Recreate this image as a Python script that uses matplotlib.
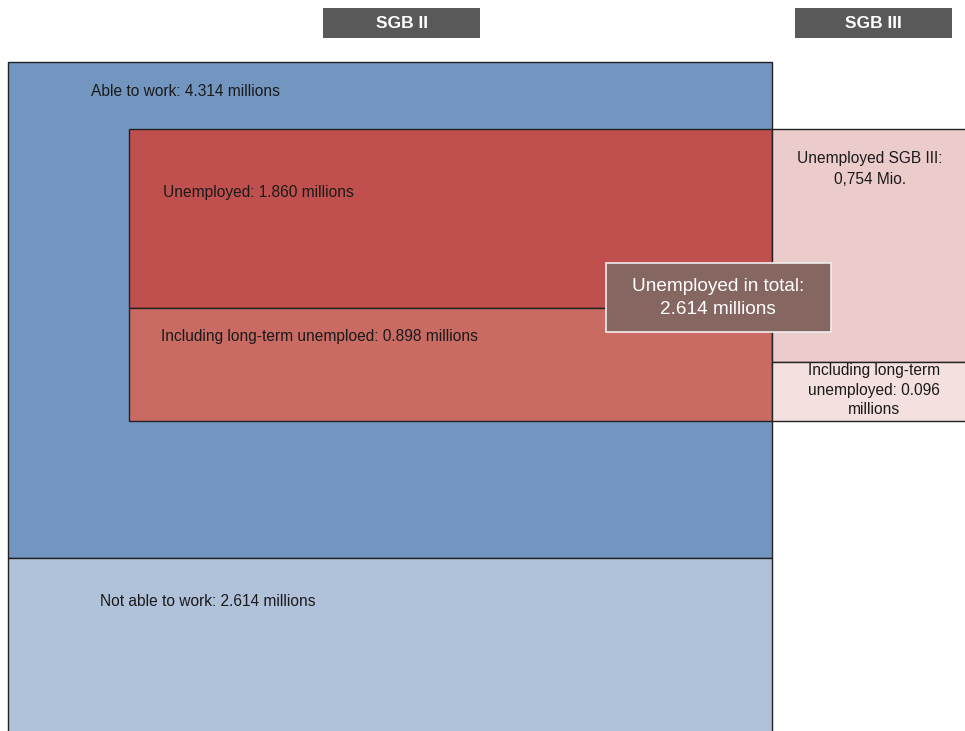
import matplotlib.pyplot as plt
from matplotlib.patches import Rectangle

plt.rcParams['font.family'] = ['Liberation Sans', 'DejaVu Sans']

# values (millions)
able_to_work = 4.314
not_able = 2.614
unemp_sgb2 = 1.860
longterm_sgb2 = 0.898
unemp_sgb3 = 0.754
longterm_sgb3 = 0.096
unemp_total = 2.614

headers = ["SGB II", "SGB III"]

# layout of the boxes in pixel units (x0, y0, x1, y1), y going down
layout = {
    "able": (8, 62, 772, 558),
    "not_able": (8, 558, 772, 735),
    "unemp2": (129, 129, 772, 308),
    "long2": (129, 308, 772, 421),
    "unemp3": (772, 129, 968, 362),
    "long3": (772, 362, 968, 421),
    "total": (606, 263, 831, 332),
}
header_boxes = [(323, 8, 480, 38), (795, 8, 952, 38)]

fig = plt.figure(figsize=(9.65, 7.31), dpi=100)
ax = fig.add_axes([0, 0, 1, 1])
ax.set_xlim(0, 965)
ax.set_ylim(731, 0)
ax.axis('off')


def box(key, color, ec='#222222', lw=1.0, z=1):
    x0, y0, x1, y1 = layout[key]
    ax.add_patch(Rectangle((x0, y0), x1 - x0, y1 - y0, facecolor=color,
                           edgecolor=ec, linewidth=lw, zorder=z))


box("able", '#7396c0')
box("not_able", '#b0c2da')
box("unemp2", '#c0504d', z=2)
box("long2", '#c96b63', z=2)
box("unemp3", '#ecccca', z=2)
box("long3", '#f4e1df', z=2)
box("total", '#866660', ec='#f2eeee', lw=1.2, z=5)

fs = 11.2
tc = '#1a1a1a'
ax.text(91, 91, f"Able to work: {able_to_work:.3f} millions", fontsize=fs,
        color=tc, va='center', zorder=6)
ax.text(163, 193, f"Unemployed: {unemp_sgb2:.3f} millions", fontsize=fs,
        color=tc, va='center', zorder=6)
ax.text(161, 336, f"Including long-term unemploed: {longterm_sgb2:.3f} millions",
        fontsize=fs, color=tc, va='center', zorder=6)
ax.text(100, 602, f"Not able to work: {not_able:.3f} millions", fontsize=fs,
        color=tc, va='center', zorder=6)
ax.text(870, 169, "Unemployed SGB III:\n" + f"{unemp_sgb3:.3f}".replace('.', ',') + " Mio.",
        fontsize=fs, color=tc, ha='center', va='center', linespacing=1.45, zorder=6)
ax.text(874, 390, f"Including long-term\nunemployed: {longterm_sgb3:.3f}\nmillions",
        fontsize=fs, color=tc, ha='center', va='center', linespacing=1.36, zorder=6)
ax.text(718, 298, f"Unemployed in total:\n{unemp_total:.3f} millions", fontsize=13.7,
        color='white', ha='center', va='center', linespacing=1.45, zorder=6)

for (x0, y0, x1, y1), label in zip(header_boxes, headers):
    ax.add_patch(Rectangle((x0, y0), x1 - x0, y1 - y0, facecolor='#595959',
                           edgecolor='none', zorder=3))
    ax.text((x0 + x1) / 2, (y0 + y1) / 2, label, fontsize=12.5, fontweight='bold',
            color='white', ha='center', va='center', zorder=6)

fig.savefig('out.png', dpi=100)
